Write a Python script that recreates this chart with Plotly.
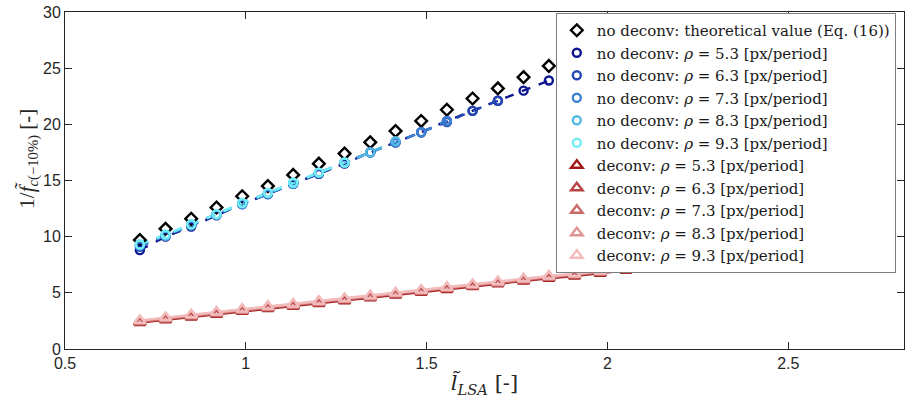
import plotly.graph_objects as go

# x positions (normalised LSA length)
x_lsa = [0.707, 0.778, 0.849, 0.919, 0.990, 1.061, 1.131, 1.202, 1.273, 1.344, 1.414,
         1.485, 1.556, 1.627, 1.697, 1.768, 1.838, 1.909, 1.980, 2.051, 2.121]

# theoretical value (Eq. 16), no deconvolution
theo = [9.7, 10.7, 11.6, 12.6, 13.6, 14.5, 15.5, 16.5, 17.4, 18.4, 19.4, 20.3, 21.3,
        22.3, 23.2, 24.2, 25.2]

rho_labels = ["5.3", "6.3", "7.3", "8.3", "9.3"]

# no deconvolution
nd_53 = [8.8, 10.0, 10.9, 11.9, 12.9, 13.8, 14.7, 15.6, 16.5, 17.5, 18.4, 19.3, 20.3,
         21.2, 22.1, 23.0, 23.9]
nd_63 = [9.1, 10.1, 11.0, 12.0, 12.9, 13.8, 14.7, 15.6, 16.6, 17.5, 18.4, 19.3, 20.2,
         21.2, 22.1]
nd_73 = [9.2, 10.1, 11.0, 12.0, 12.9, 13.8, 14.7, 15.7, 16.6, 17.5, 18.4, 19.3, 20.3]
nd_83 = [9.3, 10.1, 11.1, 12.0, 13.0, 13.9, 14.8, 15.7, 16.6, 17.5, 18.5]
nd_93 = [9.3, 10.2, 11.1, 12.0, 13.0, 13.9, 14.8, 15.7, 16.6]

# deconvolution
dc_53 = [2.35, 2.6, 2.85, 3.1, 3.35, 3.6, 3.8, 4.05, 4.3, 4.55, 4.8, 5.05, 5.3, 5.55,
         5.8, 6.05, 6.3, 6.5, 6.75, 7.0, 7.25]
dc_63 = [2.4, 2.65, 2.9, 3.15, 3.4, 3.65, 3.85, 4.1, 4.35, 4.6, 4.85, 5.1, 5.35, 5.6,
         5.85, 6.1, 6.35, 6.55, 6.8, 7.05, 7.3]
dc_73 = [2.45, 2.7, 2.95, 3.2, 3.45, 3.7, 3.9, 4.15, 4.4, 4.65, 4.9, 5.15, 5.4, 5.65,
         5.9, 6.15, 6.4, 6.6, 6.85, 7.1, 7.35]
dc_83 = [2.5, 2.75, 3.0, 3.25, 3.5, 3.75, 3.95, 4.2, 4.45, 4.7, 4.95, 5.2, 5.45, 5.7,
         5.95, 6.2, 6.45, 6.65, 6.9, 7.15, 7.4]
dc_93 = [2.55, 2.8, 3.05, 3.3, 3.55, 3.8, 4.0, 4.25, 4.5, 4.75, 5.0, 5.25, 5.5, 5.75,
         6.0, 6.25, 6.5, 6.7, 6.95, 7.2, 7.45]

nd_colors = ["#0c1490", "#2447b4", "#3b82d2", "#52b9e2", "#72eef8"]
dc_colors = ["#a01c1c", "#b84444", "#cc6a6a", "#e09494", "#f2bcbc"]

serif = "DejaVu Serif"
fig = go.Figure()

# lines (no legend entries)
for vals, col in zip([nd_53, nd_63, nd_73, nd_83, nd_93], nd_colors):
    fig.add_trace(go.Scatter(x=x_lsa[:len(vals)], y=vals, mode="lines",
                             line=dict(color=col, width=2.4, dash="dash"),
                             showlegend=False, hoverinfo="skip"))
for vals, col in zip([dc_53, dc_63, dc_73, dc_83, dc_93], dc_colors):
    fig.add_trace(go.Scatter(x=x_lsa[:len(vals)], y=vals, mode="lines",
                             line=dict(color=col, width=2.4),
                             showlegend=False, hoverinfo="skip"))

# markers (legend entries)
fig.add_trace(go.Scatter(
    x=x_lsa[:len(theo)], y=theo, mode="markers",
    marker=dict(symbol="diamond-open", size=9, color="black", line=dict(width=2.4)),
    name="no deconv: theoretical value (Eq. (16))"))

for lab, vals, col in zip(rho_labels, [nd_53, nd_63, nd_73, nd_83, nd_93], nd_colors):
    fig.add_trace(go.Scatter(
        x=x_lsa[:len(vals)], y=vals, mode="markers",
        marker=dict(symbol="circle-open", size=8, color=col, line=dict(width=2.4)),
        name=f"no deconv: <i>ρ</i> = {lab} [px/period]"))

for lab, vals, col in zip(rho_labels, [dc_53, dc_63, dc_73, dc_83, dc_93], dc_colors):
    fig.add_trace(go.Scatter(
        x=x_lsa[:len(vals)], y=vals, mode="markers",
        marker=dict(symbol="triangle-up-open", size=10, color=col, line=dict(width=2.4)),
        name=f"deconv: <i>ρ</i> = {lab} [px/period]"))

axis_common = dict(
    showline=True, linecolor="#262626", linewidth=1, mirror="ticks",
    ticks="inside", ticklen=7, tickcolor="#262626", showgrid=False, zeroline=False,
    automargin=False,
    tickfont=dict(family="Liberation Sans", size=16, color="#262626"))

fig.update_xaxes(range=[0.5, 2.82], tickvals=[0.5, 1, 1.5, 2, 2.5],
                 ticktext=["0.5", "1", "1.5", "2", "2.5"],
                 title=dict(text="<i>l̃</i><sub><i>LSA</i></sub> [-]",
                            font=dict(family=serif, size=21, color="#262626"), standoff=4),
                 **axis_common)
fig.update_yaxes(range=[0, 30], tickvals=[0, 5, 10, 15, 20, 25, 30], **axis_common)

# y-axis title placed as in the reference (slightly above the axis centre)
fig.add_annotation(
    text="1/<i>f̃</i><sub><i>c</i>(−10%)</sub> [-]", textangle=-90,
    xref="paper", yref="paper", x=-0.044, y=0.565, xanchor="center", yanchor="middle",
    showarrow=False, font=dict(family="Liberation Serif", size=21, color="#262626"))

fig.update_layout(
    width=905, height=411,
    margin=dict(l=65, r=1, t=12, b=62),
    plot_bgcolor="white", paper_bgcolor="white",
    legend=dict(x=0.585, y=0.997, xanchor="left", yanchor="top",
                bgcolor="white", bordercolor="#7f7f7f", borderwidth=1,
                font=dict(family=serif, size=15, color="#1a1a1a"),
                tracegroupgap=0, itemwidth=30),
    showlegend=True,
)

# remove the page's default 8px body margin so the figure fills the window exactly
fig.write_html("out.html", config={"displayModeBar": False},
               post_script="document.body.style.margin='0';")
